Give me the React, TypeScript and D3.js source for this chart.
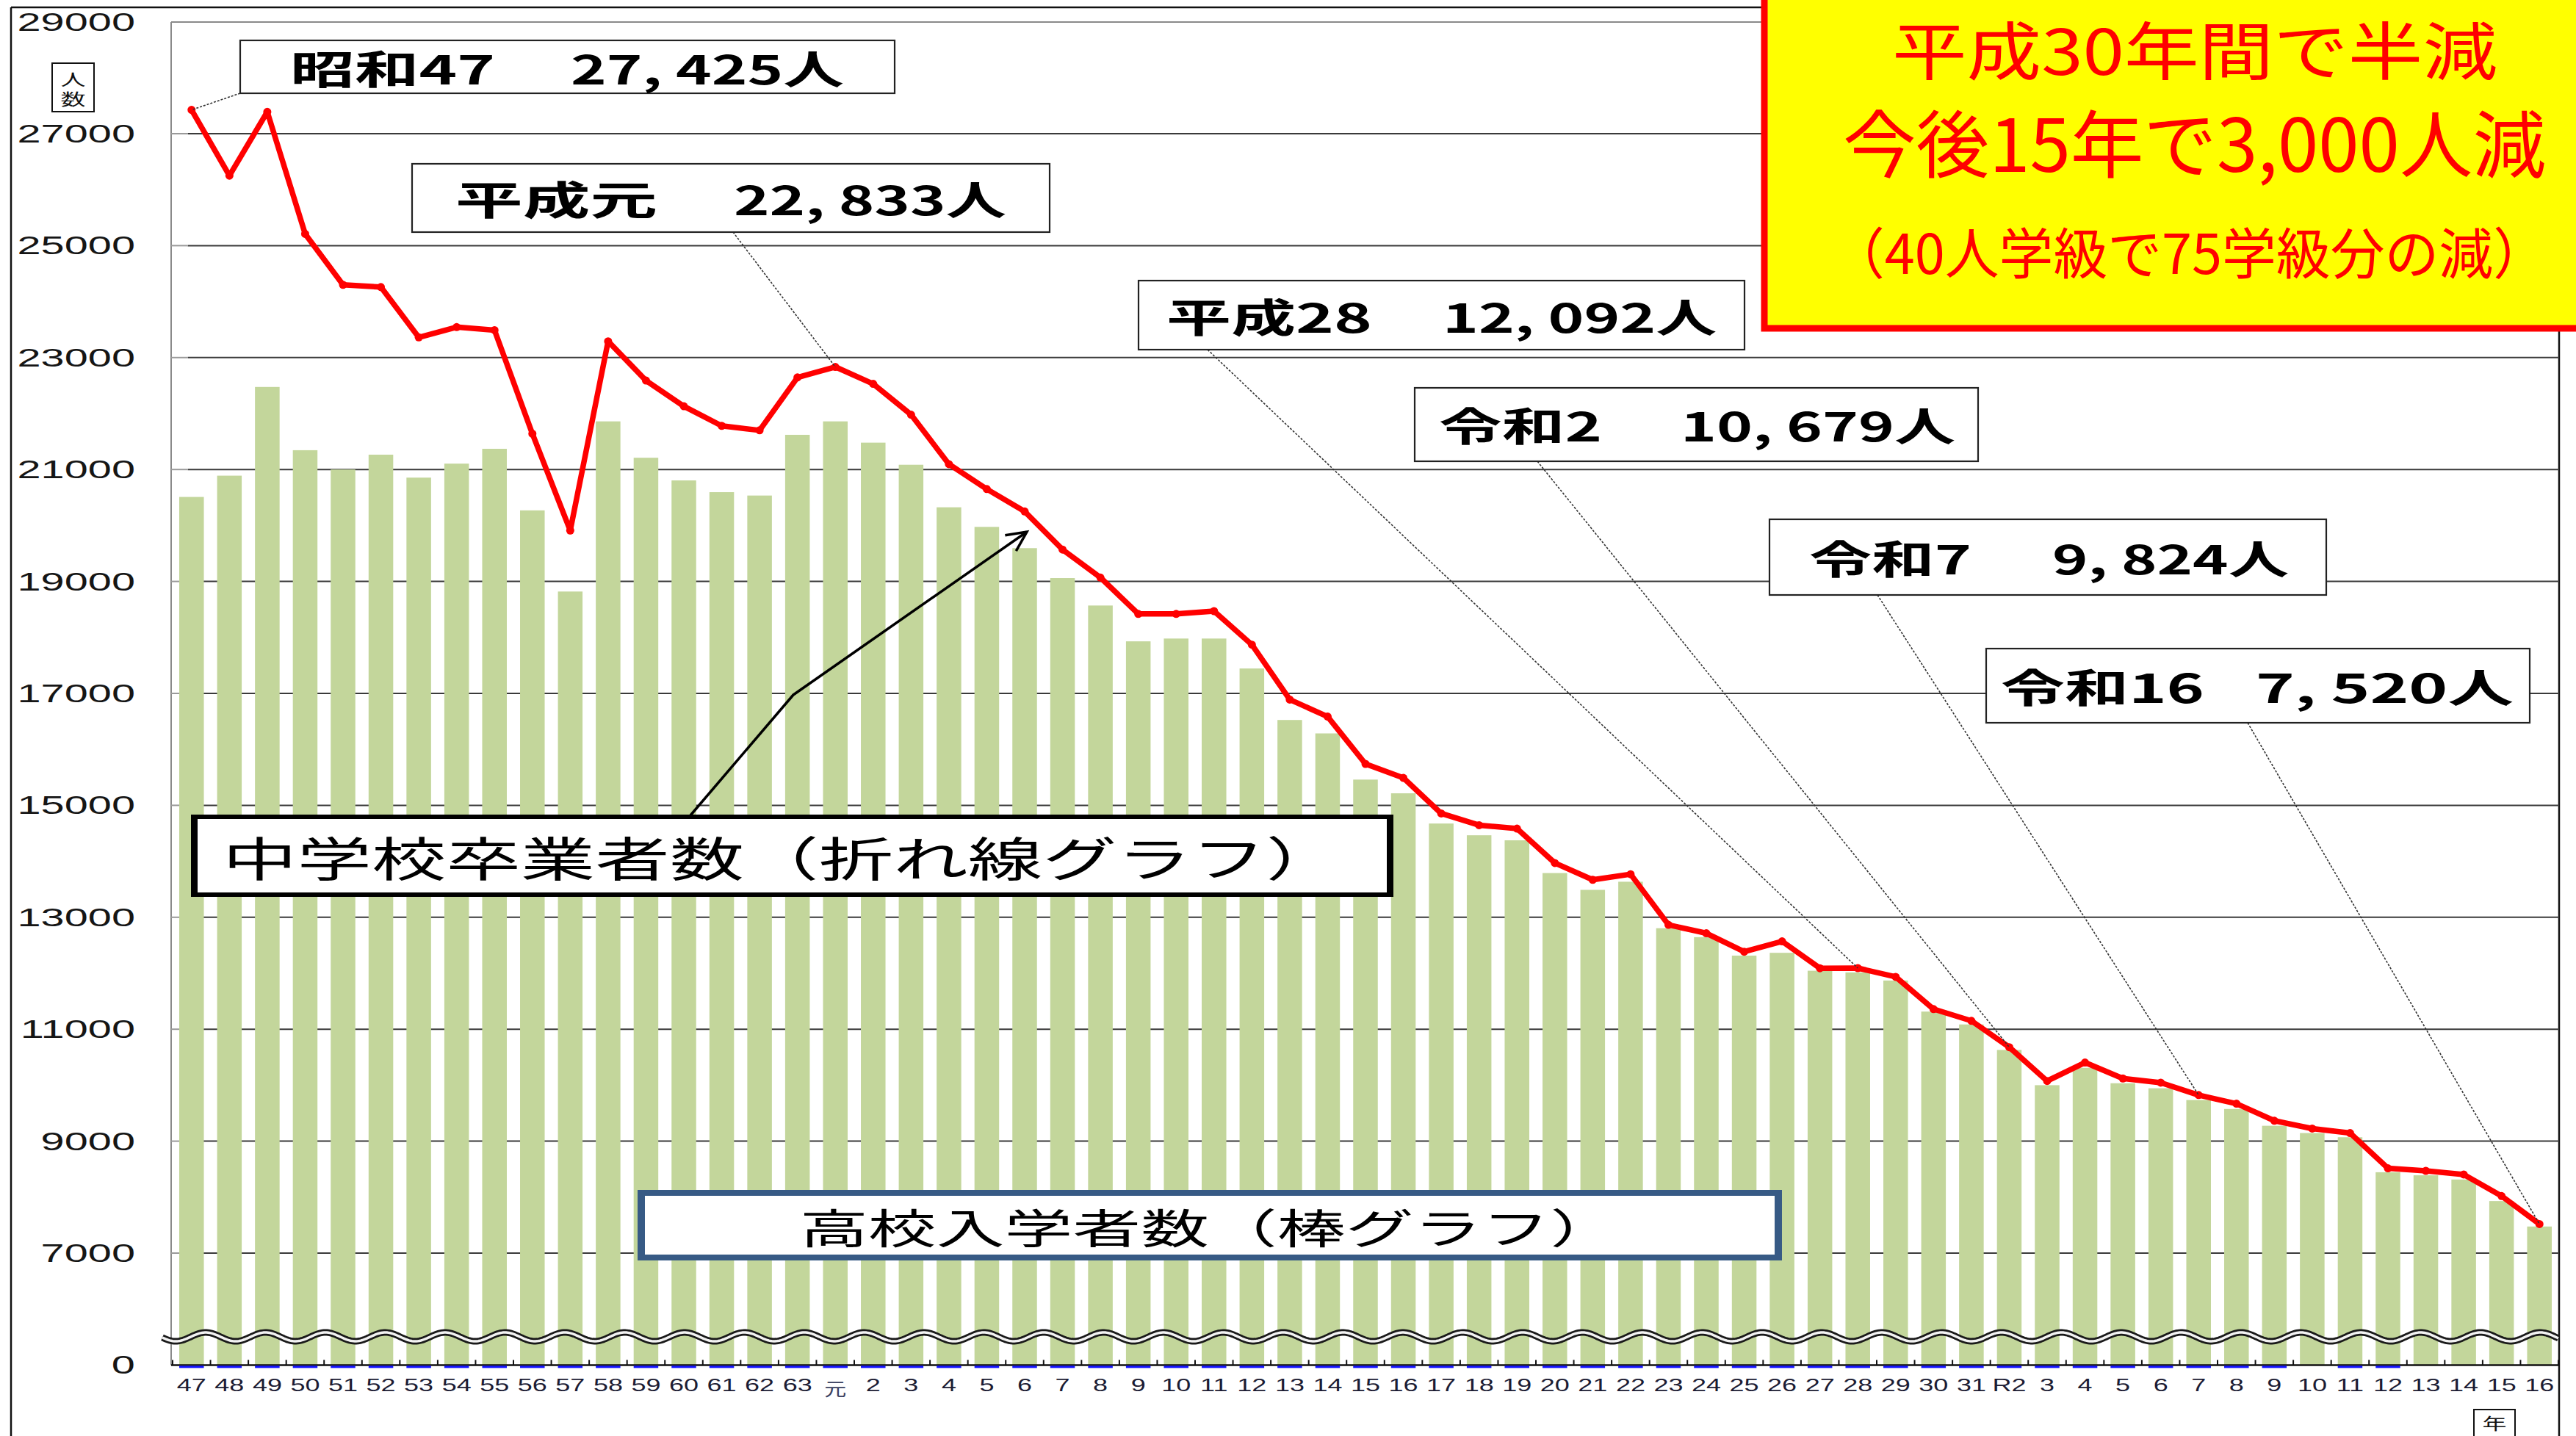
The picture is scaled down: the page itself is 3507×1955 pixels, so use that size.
import React from 'react';
import * as d3 from 'd3';

// ---- Data ----
const categories: string[] = [
  '47','48','49','50','51','52','53','54','55','56','57','58','59','60','61','62','63',
  '元','2','3','4','5','6','7','8','9','10','11','12','13','14','15','16','17','18','19','20',
  '21','22','23','24','25','26','27','28','29','30','31',
  'R2','3','4','5','6','7','8','9','10','11','12','13','14','15','16',
];

// 中学校卒業者数（折れ線グラフ）
const graduates: number[] = [
  27425, 26250, 27390, 25210, 24300, 24260, 23360, 23545, 23490, 21640, 19910, 23290, 22590, 22130, 21780, 21700, 22645,
  22833, 22530, 21980, 21095, 20650, 20250, 19570, 19070, 18420, 18420, 18470, 17870, 16890, 16585, 15740, 15490, 14855,
  14645, 14585, 13970, 13670, 13770, 12865, 12715, 12385, 12570, 12090, 12092, 11935, 11360, 11150,
  10679, 10075, 10405, 10120, 10045, 9824, 9670, 9365, 9225, 9145, 8515, 8470, 8405, 8020, 7520,
];

// 高校入学者数（棒グラフ）
const enrollments: number[] = [
  20510, 20890, 22475, 21345, 21000, 21265, 20855, 21105, 21370, 20270, 18820, 21860, 21210, 20805, 20595, 20535, 21620,
  21860, 21480, 21085, 20325, 19975, 19595, 19060, 18570, 17930, 17980, 17980, 17445, 16525, 16285, 15460, 15215, 14675,
  14465, 14375, 13790, 13490, 13635, 12805, 12645, 12315, 12365, 12045, 12015, 11870, 11315, 11085,
  10630, 10000, 10310, 10035, 9945, 9735, 9575, 9275, 9145, 9070, 8445, 8390, 8315, 7930, 7475,
];

// hidden zero-valued series (thin blue marks under the axis)
const zeroSeries: (number | null)[] = [
  0,0,0,0,0,0,0,0,0,0,0,0,0,0,0,0,0,
  0,0,0,0,0,0,0,0,0,0,0,0,0,0,0,0,0,0,0,0,
  0,0,0,0,0,0,0,0,0,0,0,
  0,0,0,0,0,0,0,0,null,0,0,null,null,null,null,
];

const yTicks: number[] = [29000, 27000, 25000, 23000, 21000, 19000, 17000, 15000, 13000, 11000, 9000, 7000];
const yBreakValue = 5000; // value position drawn as "0" (broken axis)

const annotations = [
  { cat: 0, a: '昭和47', b: '27, 425人', value: 27425 },
  { cat: 17, a: '平成元', b: '22, 833人', value: 22833 },
  { cat: 44, a: '平成28', b: '12, 092人', value: 12092 },
  { cat: 48, a: '令和2', b: '10, 679人', value: 10679 },
  { cat: 53, a: '令和7', b: '9, 824人', value: 9824 },
  { cat: 62, a: '令和16', b: '7, 520人', value: 7520 },
];

const calloutLines = ['平成30年間で半減', '今後15年で3,000人減', '（40人学級で75学級分の減）'];
const lineLegend = '中学校卒業者数（折れ線グラフ）';
const barLegend = '高校入学者数（棒グラフ）';

// ---- Layout ----
const W = 3507;
const H = 1955;
const PLOT_L = 233;
const PLOT_R = 3484;
const PLOT_T = 30;
const BASE = 1858.4;
const JP = '"Noto Sans CJK JP", "Noto Sans", sans-serif';
const LAT = '"Liberation Sans", Arial, sans-serif';

const annoLayout = [
  { box: [327, 55, 891, 72], ax: 395, aw: 279, bx: 777, bw: 372, cy: 91, lx: 327, ly: 127 },
  { box: [561, 223, 868, 93], ax: 620, aw: 275, bx: 999, bw: 371, cy: 269, lx: 998, ly: 316 },
  { box: [1550, 382, 825, 94], ax: 1588, aw: 280, bx: 1964, bw: 373, cy: 429, lx: 1644, ly: 476 },
  { box: [1926, 528, 767, 100], ax: 1959, aw: 222, bx: 2288, bw: 374, cy: 577, lx: 2093, ly: 628 },
  { box: [2409, 707, 758, 103], ax: 2463, aw: 221, bx: 2794, bw: 322, cy: 758, lx: 2556, ly: 810 },
  { box: [2704, 883, 740, 101], ax: 2724, aw: 277, bx: 3071, bw: 351, cy: 933, lx: 3060, ly: 984 },
];

const FitText = ({ x, y, w, size, fill = '#000', family = JP, weight = 'normal', children }: any) => (
  <text
    x={x}
    y={y}
    textLength={w}
    lengthAdjust="spacingAndGlyphs"
    fontSize={size}
    fontFamily={family}
    fontWeight={weight}
    fill={fill}
    dominantBaseline="central"
  >
    {children}
  </text>
);

const SText = ({ x, y, size, sx = 1, anchor = 'start', fill = '#111', family = LAT, weight = 'normal', children }: any) => (
  <text
    transform={`translate(${x},${y}) scale(${sx},1)`}
    fontSize={size}
    fontFamily={family}
    fontWeight={weight}
    fill={fill}
    textAnchor={anchor}
    dominantBaseline="central"
  >
    {children}
  </text>
);

export default function App() {
  const x = d3
    .scaleBand<number>()
    .domain(d3.range(categories.length))
    .range([235, 3483])
    .paddingInner(0.35)
    .paddingOuter(0.175);
  const bw = x.bandwidth();
  const step = x.step();
  const cx = (i: number) => (x(i) as number) + bw / 2;
  const y = d3.scaleLinear().domain([yBreakValue, 29000]).range([BASE, 29.6]);

  const lineGen = d3
    .line<number>()
    .x((_, i) => cx(i))
    .y((d) => y(d));

  // wavy axis-break decoration
  const waveX = d3.range(221, PLOT_R + 1, 2);
  const wavePath = d3
    .line<number>()
    .x((d) => d)
    .y((d) => 1820 - 6 * Math.cos((2 * Math.PI * (d - 280)) / 81.5))(waveX) as string;

  // arrow
  const arrowPts: [number, number][] = [
    [940, 1110],
    [1080, 946],
    [1398, 724],
  ];
  const [ax1, ay1] = arrowPts[1];
  const [ax2, ay2] = arrowPts[2];
  const ang = Math.atan2(ay2 - ay1, ax2 - ax1);
  const headLen = 30;
  const h1 = [ax2 - headLen * Math.cos(ang - 0.45), ay2 - headLen * Math.sin(ang - 0.45)];
  const h2 = [ax2 - headLen * Math.cos(ang + 0.45), ay2 - headLen * Math.sin(ang + 0.45)];

  return (
    <svg
      width={W}
      height={H}
      viewBox={`0 0 ${W} ${H}`}
      style={{ position: 'absolute', left: 0, top: 0, display: 'block', background: '#fff' }}
    >
      <rect x={0} y={0} width={W} height={H} fill="#fff" />

      {/* outer frame */}
      <line x1={15} y1={10} x2={15} y2={H} stroke="#111" strokeWidth={2.5} />
      <line x1={15} y1={10} x2={PLOT_R} y2={10} stroke="#111" strokeWidth={2.5} />
      <line x1={PLOT_R} y1={10} x2={PLOT_R} y2={H} stroke="#111" strokeWidth={2.5} />

      {/* plot frame */}
      <line x1={PLOT_L} y1={PLOT_T} x2={PLOT_L} y2={BASE} stroke="#8a8a8a" strokeWidth={2} />
      <line x1={PLOT_L} y1={PLOT_T} x2={PLOT_R} y2={PLOT_T} stroke="#8a8a8a" strokeWidth={2} />

      {/* gridlines */}
      {yTicks
        .filter((t) => t !== 29000)
        .map((t) => (
          <g key={`g${t}`}>
            <line x1={256} y1={y(t)} x2={PLOT_R} y2={y(t)} stroke="#3a3a3a" strokeWidth={2} />
            <line x1={PLOT_L} y1={y(t)} x2={256} y2={y(t)} stroke="#9a9a9a" strokeWidth={2} />
          </g>
        ))}

      {/* y tick labels */}
      {yTicks.map((t) => (
        <SText key={`yl${t}`} x={184} y={y(t)} size={35} sx={1.65} anchor="end" fill="#151515">
          {String(t)}
        </SText>
      ))}
      <SText x={184} y={BASE} size={35} sx={1.65} anchor="end" fill="#151515">
        0
      </SText>

      {/* 人数 box */}
      <rect x={71} y={86} width={57} height={66} fill="none" stroke="#111" strokeWidth={2} />
      <SText x={99.5} y={106} size={22} sx={1.55} anchor="middle" family={JP} fill="#111">
        人
      </SText>
      <SText x={99.5} y={133} size={22} sx={1.55} anchor="middle" family={JP} fill="#111">
        数
      </SText>

      {/* bars */}
      {enrollments.map((v, i) => (
        <rect key={`b${i}`} x={x(i)} y={y(v)} width={bw} height={BASE - y(v)} fill="#c3d69b" />
      ))}

      {/* axis break wave */}
      <path d={wavePath} fill="none" stroke="#1a1a1a" strokeWidth={9} />
      <path d={wavePath} fill="none" stroke="#f2f2f2" strokeWidth={3.5} />

      {/* x axis */}
      <line x1={PLOT_L} y1={BASE} x2={PLOT_R} y2={BASE} stroke="#111" strokeWidth={2.5} />
      {d3.range(categories.length + 1).map((k) => {
        const xx = 235 + k * step;
        return <line key={`t${k}`} x1={xx} y1={BASE - 7} x2={xx} y2={BASE} stroke="#111" strokeWidth={2} />;
      })}
      {zeroSeries.map((v, i) =>
        v === null ? null : (
          <rect key={`z${i}`} x={x(i)} y={BASE + 1} width={bw} height={3} fill="#1010ff" />
        ),
      )}
      {categories.map((c, i) => (
        <SText
          key={`xl${i}`}
          x={cx(i)}
          y={c === '元' ? 1889 : 1885}
          size={24}
          sx={c === '元' ? 1.25 : 1.5}
          anchor="middle"
          family={c === '元' ? JP : LAT}
          fill={c === '元' ? '#3a4060' : '#1c1c34'}
        >
          {c}
        </SText>
      ))}

      {/* 年 box */}
      <rect x={3368} y={1919} width={56} height={45} fill="none" stroke="#111" strokeWidth={2} />
      <SText x={3396} y={1936} size={22} sx={1.5} anchor="middle" family={JP} fill="#111">
        年
      </SText>

      {/* graduates line */}
      <path d={lineGen(graduates) as string} fill="none" stroke="#ff0000" strokeWidth={7.5} strokeLinejoin="round" />
      {graduates.map((v, i) => (
        <circle key={`m${i}`} cx={cx(i)} cy={y(v)} r={5.5} fill="#ff0000" />
      ))}

      {/* leader lines */}
      {annotations.map((a, k) => (
        <line
          key={`ld${k}`}
          x1={annoLayout[k].lx}
          y1={annoLayout[k].ly}
          x2={cx(a.cat)}
          y2={y(a.value)}
          stroke="#333"
          strokeWidth={1.6}
          strokeDasharray="3 2"
        />
      ))}

      {/* annotation boxes */}
      {annotations.map((a, k) => {
        const L = annoLayout[k];
        const [bx, by, bwid, bh] = L.box;
        return (
          <g key={`an${k}`}>
            <rect x={bx} y={by} width={bwid} height={bh} fill="#fff" stroke="#222" strokeWidth={2.2} />
            <FitText x={L.ax} y={L.cy} w={L.aw} size={54} weight="bold">
              {a.a}
            </FitText>
            <FitText x={L.bx} y={L.cy} w={L.bw} size={54} weight="bold">
              {a.b}
            </FitText>
          </g>
        );
      })}

      {/* legend: line */}
      <rect x={260} y={1109} width={1637} height={112} fill="#000" />
      <rect x={269} y={1115} width={1619} height={100} fill="#fff" />
      <FitText x={303} y={1165} w={1522} size={64}>
        {lineLegend}
      </FitText>

      {/* arrow */}
      <polyline
        points={arrowPts.map((p) => p.join(',')).join(' ')}
        fill="none"
        stroke="#000"
        strokeWidth={3.5}
        strokeLinejoin="round"
      />
      <polyline
        points={`${h1[0]},${h1[1]} ${ax2},${ay2} ${h2[0]},${h2[1]}`}
        fill="none"
        stroke="#000"
        strokeWidth={3.5}
        strokeLinejoin="miter"
      />

      {/* legend: bars */}
      <rect x={868} y={1620} width={1558} height={96} fill="#375a85" />
      <rect x={878} y={1628} width={1538} height={80} fill="#fff" />
      <FitText x={1089} y={1668} w={1114} size={56}>
        {barLegend}
      </FitText>

      {/* yellow callout */}
      <rect x={2402} y={-20} width={1110} height={467} fill="#ffff00" stroke="#ff0000" strokeWidth={9} />
      <FitText x={2576} y={64} w={824} size={86} fill="#ff0000">
        {calloutLines[0]}
      </FitText>
      <FitText x={2509} y={190} w={957} size={100} fill="#ff0000">
        {calloutLines[1]}
      </FitText>
      <FitText x={2492} y={340} w={976} size={75} fill="#ff0000">
        {calloutLines[2]}
      </FitText>
    </svg>
  );
}
